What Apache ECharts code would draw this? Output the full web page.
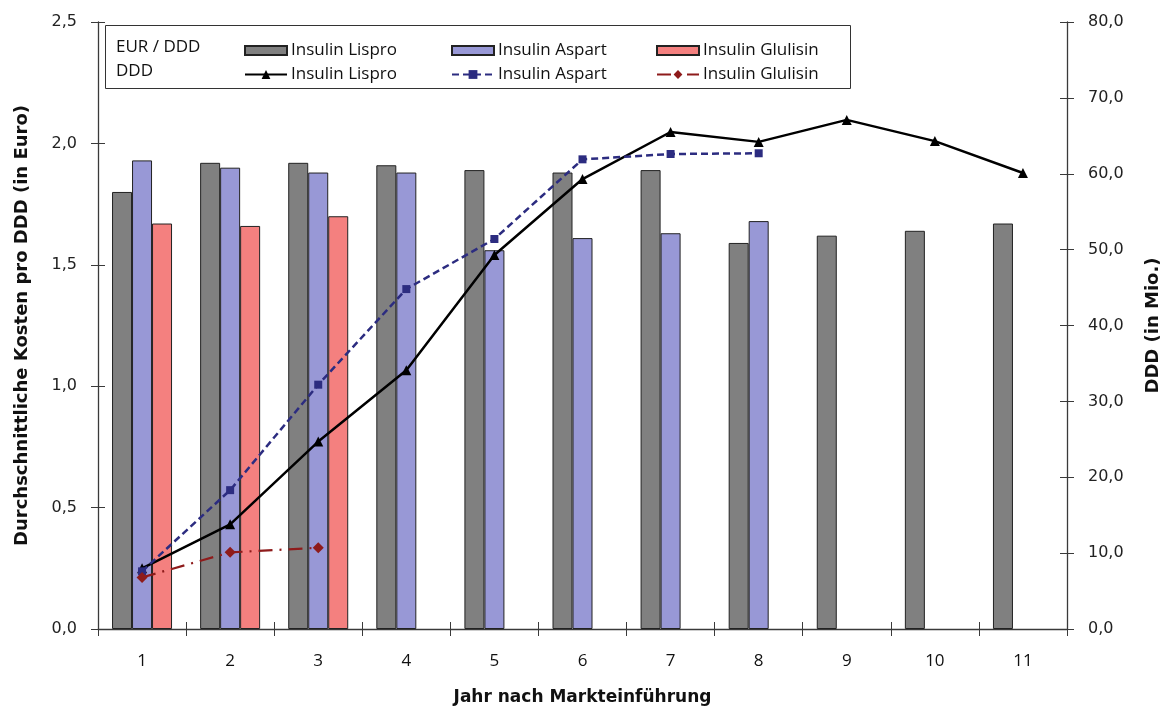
<!DOCTYPE html>
<html>
<head>
<meta charset="utf-8">
<script src="https://cdn.jsdelivr.net/npm/echarts@6/dist/echarts.min.js"></script>
<style>html,body{margin:0;padding:0;background:#fff}#c{width:1168px;height:708px}</style>
</head>
<body>
<div id="c"></div>
<script>
const categories = ['1','2','3','4','5','6','7','8','9','10','11'];
const costLispro   = [1.80, 1.92, 1.92, 1.91, 1.89, 1.88, 1.89, 1.59, 1.62, 1.64, 1.67];
const costAspart   = [1.93, 1.90, 1.88, 1.88, 1.56, 1.61, 1.63, 1.68, null, null, null];
const costGlulisin = [1.67, 1.66, 1.70, null, null, null, null, null, null, null, null];
const dddLispro    = [8.0, 13.8, 24.7, 34.1, 49.3, 59.3, 65.5, 64.2, 67.1, 64.3, 60.1];
const dddAspart    = [7.6, 18.3, 32.2, 44.8, 51.4, 61.9, 62.6, 62.7, null, null, null];
const dddGlulisin  = [6.8, 10.1, 10.7, null, null, null, null, null, null, null, null];
const leftTicks  = {min: 0, max: 2.5, interval: 0.5};
const rightTicks = {min: 0, max: 80, interval: 10};

const FONT_NUM = 'DejaVu Sans';
const FONT_TXT = 'Open Sans';
const FONT_TITLE = 'DejaVu Sans';
const fmt = v => v.toFixed(1).replace('.', ',');
const axisColor = '#3a3a3a';

const legendNames = {
  'Lispro EUR': 'Insulin Lispro', 'Aspart EUR': 'Insulin Aspart', 'Glulisin EUR': 'Insulin Glulisin',
  'Lispro DDD': 'Insulin Lispro', 'Aspart DDD': 'Insulin Aspart', 'Glulisin DDD': 'Insulin Glulisin'
};
function leg(name, left, top, isBar) {
  const l = {
    data: [name], left: left, top: top, orient: 'horizontal', padding: 0,
    itemWidth: 42, itemHeight: isBar ? 9 : 11, selectedMode: false,
    formatter: n => legendNames[n],
    textStyle: {fontFamily: FONT_TXT, fontSize: 17, color: '#111', padding: [0,0,0,-1]}
  };
  if (isBar) l.icon = 'rect';
  return l;
}

const chart = echarts.init(document.getElementById('c'), null, {renderer: 'canvas'});
chart.setOption({
  animation: false,
  backgroundColor: '#fff',
  grid: {left: 98, right: 101, top: 22, bottom: 79, containLabel: false, outerBoundsMode: 'none'},
  legend: [
    leg('Lispro EUR', 244, 42, true), leg('Aspart EUR', 451, 42, true), leg('Glulisin EUR', 656, 42, true),
    leg('Lispro DDD', 244, 66, false), leg('Aspart DDD', 451, 66, false), leg('Glulisin DDD', 656, 66, false)
  ],
  graphic: [
    {type: 'rect', left: 105, top: 25, shape: {width: 745, height: 63}, style: {fill: '#fff', stroke: '#333', lineWidth: 1}, z: 0, silent: true},
    {type: 'text', left: 116, top: 39, style: {text: 'EUR / DDD', fontFamily: FONT_TXT, fontSize: 17, fill: '#111'}, z: 10},
    {type: 'text', left: 116, top: 63, style: {text: 'DDD', fontFamily: FONT_TXT, fontSize: 17, fill: '#111'}, z: 10}
  ],
  xAxis: [
    {
      type: 'category', data: categories, boundaryGap: true,
      name: 'Jahr nach Markteinführung', nameLocation: 'middle', nameGap: 60,
      nameTextStyle: {fontFamily: FONT_TITLE, fontWeight: 'bold', fontSize: 17, color: '#111'},
      axisLine: {lineStyle: {color: axisColor, width: 1.3}},
      axisTick: {show: true, length: 7, lineStyle: {color: axisColor}},
      axisLabel: {margin: 24, fontFamily: FONT_TXT, fontSize: 17, color: '#111'},
      splitLine: {show: false}
    },
    {
      type: 'category', data: categories, boundaryGap: true, position: 'bottom',
      axisLine: {show: false}, axisLabel: {show: false},
      axisTick: {show: true, inside: true, length: 7, lineStyle: {color: axisColor}},
      splitLine: {show: false}
    }
  ],
  yAxis: [
    {
      type: 'value', position: 'left', min: leftTicks.min, max: leftTicks.max, interval: leftTicks.interval,
      name: 'Durchschnittliche Kosten pro DDD (in Euro)', nameLocation: 'middle', nameRotate: 90, nameGap: 67,
      nameTextStyle: {fontFamily: FONT_TITLE, fontWeight: 'bold', fontSize: 18, color: '#111'},
      axisLine: {show: true, lineStyle: {color: axisColor, width: 1.3}},
      axisTick: {show: true, length: 7, lineStyle: {color: axisColor}},
      axisLabel: {formatter: fmt, margin: 21, fontFamily: FONT_NUM, fontSize: 16, color: '#222'},
      splitLine: {show: false}
    },
    {
      type: 'value', position: 'right', min: rightTicks.min, max: rightTicks.max, interval: rightTicks.interval,
      name: 'DDD (in Mio.)', nameLocation: 'middle', nameRotate: 90, nameGap: 77,
      nameTextStyle: {fontFamily: FONT_TITLE, fontWeight: 'bold', fontSize: 18, color: '#111'},
      axisLine: {show: true, lineStyle: {color: axisColor, width: 1.3}},
      axisTick: {show: true, length: 7, lineStyle: {color: axisColor}},
      axisLabel: {formatter: fmt, margin: 21, fontFamily: FONT_NUM, fontSize: 16, color: '#222'},
      splitLine: {show: false}
    },
    {
      type: 'value', position: 'left', min: leftTicks.min, max: leftTicks.max, interval: leftTicks.interval,
      axisLine: {show: false}, axisLabel: {show: false}, splitLine: {show: false},
      axisTick: {show: true, inside: true, length: 7, lineStyle: {color: axisColor}}
    },
    {
      type: 'value', position: 'right', min: rightTicks.min, max: rightTicks.max, interval: rightTicks.interval,
      axisLine: {show: false}, axisLabel: {show: false}, splitLine: {show: false},
      axisTick: {show: true, inside: true, length: 7, lineStyle: {color: axisColor}}
    }
  ],
  series: [
    {name: 'Lispro EUR', type: 'bar', yAxisIndex: 0, data: costLispro, barWidth: 20, barGap: '0%',
     itemStyle: {color: '#808080', borderColor: '#222', borderWidth: 1}},
    {name: 'Aspart EUR', type: 'bar', yAxisIndex: 0, data: costAspart, barWidth: 20, barGap: '0%',
     itemStyle: {color: '#9898d6', borderColor: '#222', borderWidth: 1}},
    {name: 'Glulisin EUR', type: 'bar', yAxisIndex: 0, data: costGlulisin, barWidth: 20, barGap: '0%',
     itemStyle: {color: '#f4807f', borderColor: '#222', borderWidth: 1}},
    {name: 'Lispro DDD', type: 'line', yAxisIndex: 1, data: dddLispro, z: 5,
     symbol: 'triangle', symbolSize: 10,
     lineStyle: {color: '#000', width: 2.5}, itemStyle: {color: '#000'}},
    {name: 'Aspart DDD', type: 'line', yAxisIndex: 1, data: dddAspart, z: 5,
     symbol: 'rect', symbolSize: 8,
     lineStyle: {color: '#2c2c80', width: 2.5, type: [7, 4]}, itemStyle: {color: '#2c2c80'}},
    {name: 'Glulisin DDD', type: 'line', yAxisIndex: 1, data: dddGlulisin, z: 5,
     symbol: 'diamond', symbolSize: 11,
     lineStyle: {color: '#8e1b1b', width: 2.2, type: [14, 7, 2, 7]}, itemStyle: {color: '#8e1b1b'}}
  ]
});
</script>
</body>
</html>
